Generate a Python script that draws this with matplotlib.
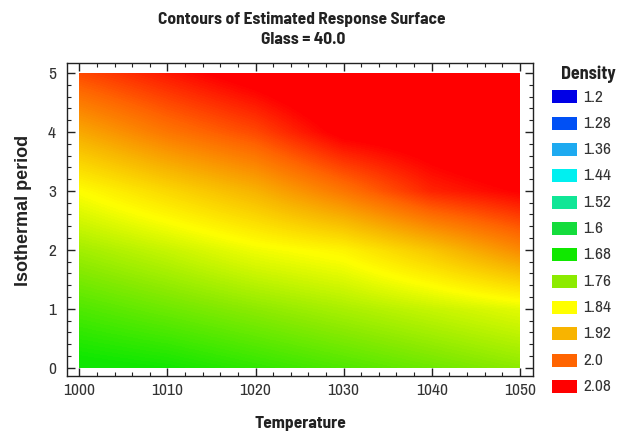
import matplotlib
matplotlib.use('Agg')
import matplotlib.pyplot as plt
from matplotlib.colors import LinearSegmentedColormap, Normalize
from matplotlib.patches import Rectangle
from matplotlib.ticker import MultipleLocator
import numpy as np

# grid
temperature = [1000, 1010, 1020, 1030, 1040, 1050]
period = [0, 1, 2, 3, 4, 5]

# density along period (0..5) at each temperature
dens_1000 = [1.67, 1.72, 1.775, 1.84, 1.93, 2.02]
dens_1010 = [1.68, 1.74, 1.80, 1.88, 1.98, 2.06]
dens_1020 = [1.70, 1.76, 1.83, 1.92, 2.02, 2.10]
dens_1030 = [1.72, 1.78, 1.85, 1.98, 2.09, 2.14]
dens_1040 = [1.74, 1.80, 1.90, 2.05, 2.11, 2.16]
dens_1050 = [1.76, 1.82, 1.96, 2.08, 2.15, 2.18]

# legend levels and colours
levels = [1.2, 1.28, 1.36, 1.44, 1.52, 1.6, 1.68, 1.76, 1.84, 1.92, 2.0, 2.08]
level_labels = ['1.2', '1.28', '1.36', '1.44', '1.52', '1.6', '1.68', '1.76', '1.84', '1.92', '2.0', '2.08']
level_colors = ['#0000e6', '#0050f5', '#1eaaf0', '#00f0f0', '#10e696', '#14dc3c',
                '#10e800', '#8ceb00', '#ffff00', '#f8b400', '#ff6400', '#ff0000']

narrow = ['Archivo Narrow', 'Liberation Sans', 'DejaVu Sans']
narrow_bold = ['Barlow Semi Condensed', 'Liberation Sans', 'DejaVu Sans']
wide = ['Liberation Sans', 'DejaVu Sans']

W, H = 629, 436
fig = plt.figure(figsize=(W / 100, H / 100), dpi=100)
ax = fig.add_axes([67 / W, 1 - 376 / H, (533 - 67) / W, (376 - 63) / H])

Z = np.array([dens_1000, dens_1010, dens_1020, dens_1030, dens_1040, dens_1050]).T
pos = [(lv - levels[0]) / (levels[-1] - levels[0]) for lv in levels]
cmap = LinearSegmentedColormap.from_list('density', list(zip(pos, level_colors)))
norm = Normalize(vmin=levels[0], vmax=levels[-1])

dT = temperature[1] - temperature[0]
dP = period[1] - period[0]
im = ax.imshow(Z, origin='lower', cmap=cmap, norm=norm, aspect='auto',
               interpolation='bilinear', interpolation_stage='data',
               extent=(temperature[0] - dT / 2, temperature[-1] + dT / 2,
                       period[0] - dP / 2, period[-1] + dP / 2))
clip = Rectangle((temperature[0], period[0]), temperature[-1] - temperature[0],
                 period[-1] - period[0], transform=ax.transData)
im.set_clip_path(clip)

ax.set_xlim(998.6, 1051.5)
ax.set_ylim(-0.14, 5.17)
ax.xaxis.set_major_locator(MultipleLocator(10))
ax.xaxis.set_minor_locator(MultipleLocator(2))
ax.yaxis.set_major_locator(MultipleLocator(1))
ax.yaxis.set_minor_locator(MultipleLocator(0.2))
ax.tick_params(which='both', direction='in', top=True, right=True, color='#222222')
ax.tick_params(which='major', length=6, width=1)
ax.tick_params(which='minor', length=3, width=0.8)
ax.tick_params(axis='x', pad=5)
ax.tick_params(axis='y', pad=8)
for lab in ax.get_xticklabels() + ax.get_yticklabels():
    lab.set_family(narrow)
    lab.set_fontsize(12.5)
    lab.set_color('#333333')
for sp in ax.spines.values():
    sp.set_color('#222222')
    sp.set_linewidth(1)

fig.text(302 / W, 1 - 19 / H, 'Contours of Estimated Response Surface', ha='center', va='center',
         family=narrow_bold, fontweight='bold', fontsize=12.5, color='#222222')
fig.text(303 / W, 1 - 40 / H, 'Glass = 40.0', ha='center', va='center',
         family=narrow_bold, fontweight='bold', fontsize=12.5, color='#222222')
fig.text(300 / W, 1 - 423 / H, 'Temperature', ha='center', va='center',
         family=narrow_bold, fontweight='bold', fontsize=12.5, color='#222222')
fig.text(24 / W, 1 - 210 / H, 'Isothermal period', ha='center', va='center', rotation=90,
         family=wide, fontweight='bold', fontsize=13, color='#222222')

# legend drawn in pixel coordinates
lax = fig.add_axes([0, 0, 1, 1])
lax.set_xlim(0, W)
lax.set_ylim(H, 0)
lax.axis('off')
lax.text(588, 74, 'Density', ha='center', va='center', family=narrow_bold,
         fontweight='bold', fontsize=13, color='#222222')
for i, (lab, col) in enumerate(zip(level_labels, level_colors)):
    yc = 97 + i * 26.3
    lax.add_patch(Rectangle((552, yc - 6.5), 25, 13, facecolor=col, edgecolor='none'))
    lax.text(583, yc, lab, ha='left', va='center', family=narrow, fontsize=12.5, color='#333333')

fig.savefig('out.png', dpi=100)
